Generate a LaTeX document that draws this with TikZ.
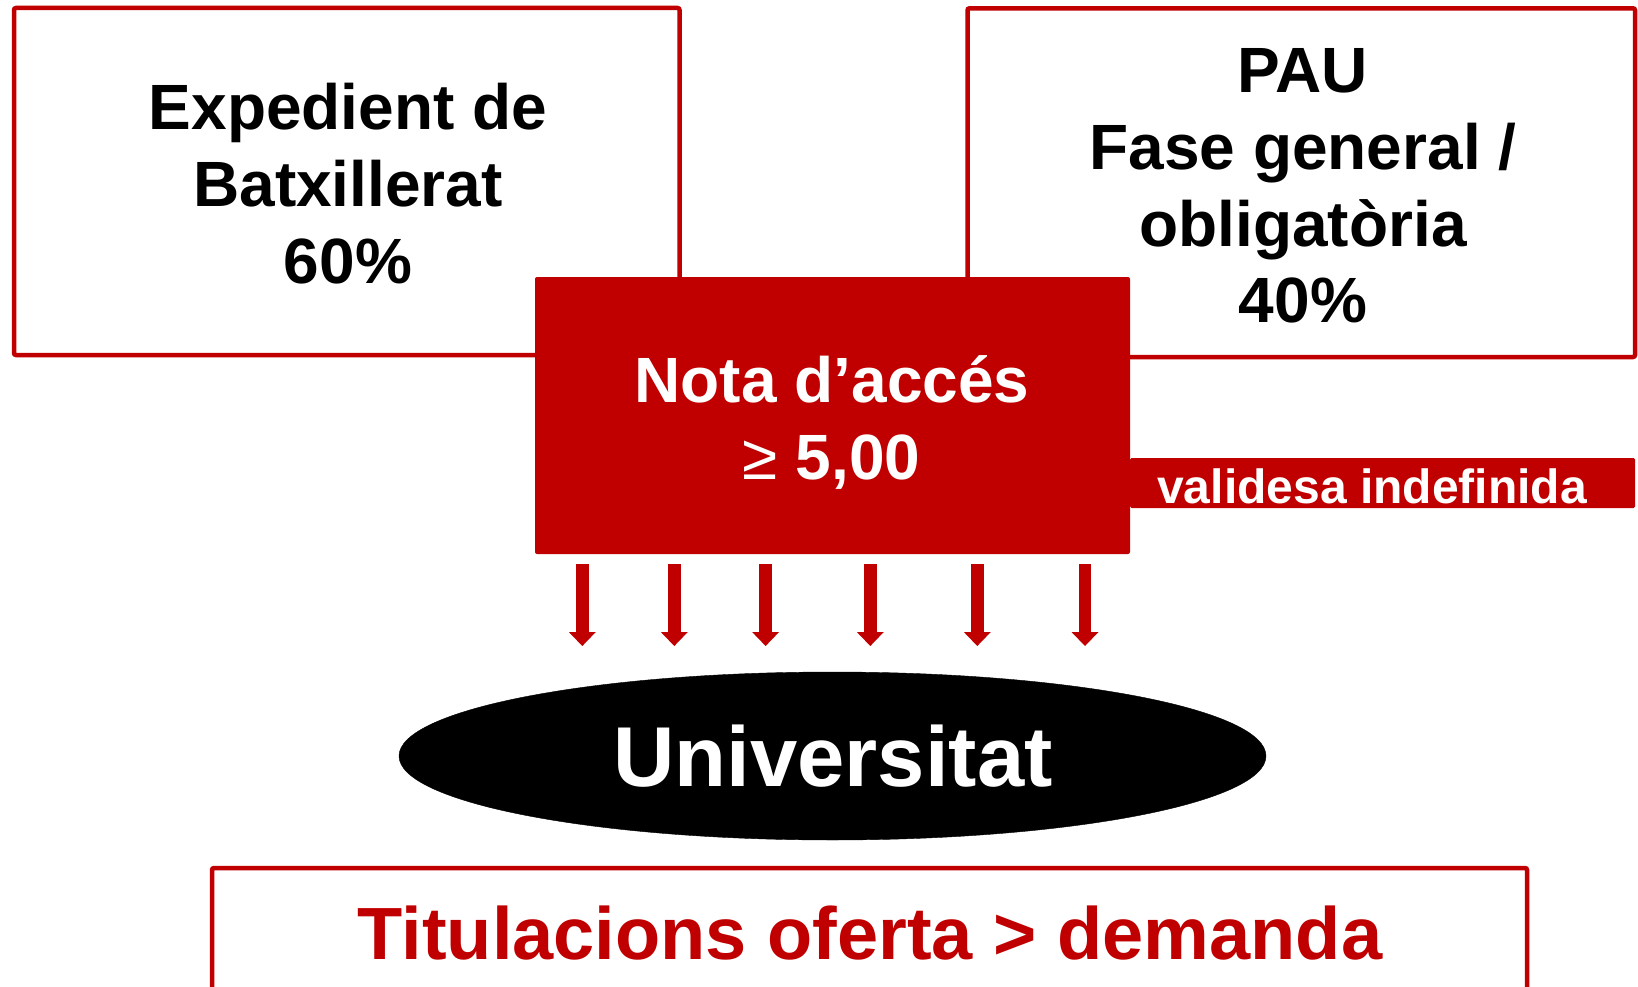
\documentclass[tikz,border=0pt]{standalone}
\usepackage{fontspec}
\setmainfont{Liberation Sans}
\usetikzlibrary{arrows.meta}
\definecolor{dred}{RGB}{192,0,0}
\tikzset{
  frame/.style={draw=dred, line width=4.5pt, fill=white, rounded corners=2pt},
  txt/.style={anchor=base, inner sep=0pt, font=\bfseries\fontsize{64}{77}\selectfont},
  blockarrow/.style={draw=dred, line width=12.7pt, -{Triangle[width=27pt,length=14pt,line width=0pt]}}
}
\begin{document}
\begin{tikzpicture}[x=1pt,y=-1pt]
\useasboundingbox (0,0) rectangle (1638,987);
\clip (0,0) rectangle (1638,987);
% top boxes
\node[frame, minimum width=665.5pt, minimum height=347pt] (exp) at (346.75,181.5) {};
\node[frame, minimum width=667.5pt, minimum height=348.7pt] (pau) at (1301.25,182.65) {};
\node[txt] (e1) at (348,129.5) {Expedient de};
\node[txt] (e2) at (348,206.5) {Batxillerat};
\node[txt] (e3) at (348,283.3) {60\%};
\node[txt] (p1) at (1303,92.3) {PAU};
\node[txt] (p2) at (1303,169.3) {Fase general /};
\node[txt] (p3) at (1303,246) {obligatòria};
\node[txt] (p4) at (1303,322.7) {40\%};
% validity band
\node[fill=dred, inner sep=0pt, minimum width=505pt, minimum height=50pt, rounded corners=1.5pt] (band) at (1382.5,483) {};
\node[inner sep=0pt, anchor=base, text=white, font=\bfseries\fontsize{48}{56}\selectfont] (val) at (1372,503) {validesa indefinida};
% red box
\node[fill=dred, inner sep=0pt, minimum width=595pt, minimum height=277pt, rounded corners=2pt] (nota) at (832.5,415.5) {};
\node[txt, text=white] (n1) at (832,402) {Nota d’accés};
\node[txt, text=white] (n2) at (831.5,479.5) {{\fontseries{m}\selectfont ≥} 5,00};
% arrows
\foreach \i/\x in {1/582.3,2/674.3,3/765.6,4/870.3,5/977.3,6/1085} {
  \coordinate (s\i) at (\x,564);
  \coordinate (t\i) at (\x,646);
  \draw[blockarrow] (s\i) -- (t\i);
}
% university ellipse
\draw[fill=black] (832.5,756) ellipse [x radius=433.5pt, y radius=84pt];
\coordinate (uc) at (832.5,756);
\node[inner sep=0pt, anchor=base, text=white, font=\bfseries\fontsize{85}{95}\selectfont] (uni) at (833,786) {Universitat};
% bottom box
\draw[draw=dred, line width=4.5pt, rounded corners=2pt] (212,868) rectangle (1527,1010);
\node[inner sep=0pt, anchor=base, text=dred, font=\bfseries\fontsize{74}{84}\selectfont] (tit) at (870,959) {Titulacions oferta > demanda};
\end{tikzpicture}
\end{document}
